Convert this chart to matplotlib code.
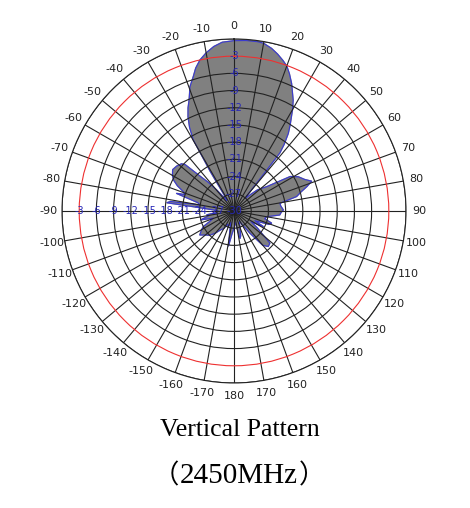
import numpy as np
import matplotlib
matplotlib.use("Agg")
import matplotlib.pyplot as plt

# measured pattern (deg, dB), 0 = up, clockwise positive
angles_deg = [
    -180, -175, -171, -168, -165, -160, -155, -150, -145, -140, -135, -130,
    -125, -120, -117, -113, -109, -105, -101, -98, -95, -90, -87, -84.5,
    -83, -81.5, -80, -77, -74.5, -73, -71.5, -69, -66, -63, -60, -56, -52,
    -48, -46.5, -44.5, -42, -39.5, -37, -34, -32, -31, -29.8, -28, -26,
    -24, -22, -19.5, -17, -15, -12.7, -10, -7, -4, 0, 4, 8, 10, 13, 15.5,
    18, 20, 22, 24.3, 26, 28.1, 30, 33, 35, 37, 38.3, 38.8, 40, 42, 45,
    48, 53.4, 58.5, 62, 66, 69, 71.5, 74, 77, 80.5, 84, 88.8, 92, 95,
    99.9, 104, 108, 111, 115, 118, 122, 126, 131.9, 136, 140, 144.3, 148,
    152, 157, 162, 165, 167.6, 170, 174, 178,
]
gain_db = [
    -27.0, -26.0, -23.8, -26.5, -28.0, -27.0, -27.5, -26.5, -26.0, -25.0,
    -24.0, -23.5, -22.7, -23.5, -24.0, -25.5, -26.2, -24.0, -25.5, -25.2,
    -27.0, -27.3, -26.4, -24.0, -18.2, -18.8, -24.0, -23.5, -21.5, -19.5,
    -21.0, -20.5, -19.2, -18.2, -17.6, -17.1, -17.3, -17.7, -18.3, -21.3,
    -23.3, -25.3, -27.0, -27.8, -27.7, -22.0, -15.7, -13.5, -11.7, -10.3,
    -9.1, -7.0, -5.6, -4.2, -3.0, -2.0, -1.1, -0.5, -0.3, -0.2, -0.2, -0.3,
    -0.9, -1.6, -2.4, -3.1, -4.2, -5.6, -6.8, -8.1, -9.6, -12.0, -13.5,
    -15.5, -17.1, -22.0, -26.5, -27.0, -26.0, -24.5, -22.9, -18.5, -17.3,
    -16.5, -15.5, -16.6, -17.8, -18.8, -21.9, -21.8, -21.4, -21.8, -22.0,
    -24.2, -24.5, -23.1, -23.5, -26.0, -24.2, -26.5, -25.0, -21.6, -21.4,
    -22.2, -25.2, -27.0, -28.0, -27.5, -26.5, -25.5, -25.1, -27.0, -28.0,
    -27.5,
]

rings_db = [-30, -27, -24, -21, -18, -15, -12, -9, -6, -3, 0]
ring_labels = ["-30", "-27", "-24", "-21", "-18", "-15", "-12", "-9", "-6", "-3"]
angle_ticks = list(range(0, 360, 10))
angle_labels = [str(a if a <= 180 else a - 360) for a in angle_ticks]
floor_db = -30

theta = np.deg2rad(np.array(angles_deg + [angles_deg[0]]))
r = np.clip(np.array(gain_db + [gain_db[0]]) - floor_db, 0, None)

fig = plt.figure(figsize=(4.70, 5.08), dpi=100)
ax = fig.add_axes([0.1319, 0.2461, 0.732, 0.6772], projection="polar")
ax.set_theta_zero_location("N")
ax.set_theta_direction(-1)
ax.set_ylim(0, -floor_db)

ax.fill(theta, r, color="#808080", zorder=1)
ax.plot(theta, r, color="#3a3ad0", lw=0.8, zorder=1.5)

ax.set_axisbelow(False)
ax.set_thetagrids(angle_ticks, angle_labels, fontsize=8, color="#222222")
ax.tick_params(axis="x", pad=-1)
rvals = [d - floor_db for d in rings_db[1:]]
ax.set_rgrids(rvals, labels=[""] * len(rvals))
ax.xaxis.grid(True, color="#222222", lw=0.8)
ax.yaxis.grid(True, color="#222222", lw=0.8)
for gl, d in zip(ax.yaxis.get_gridlines(), rings_db[1:]):
    if d == -3:
        gl.set_color("#ee3030")
ax.spines["polar"].set_color("#222222")
ax.spines["polar"].set_linewidth(0.8)

# blue level labels along the 0 and -90 spokes
for lab, d in zip(ring_labels, rings_db):
    rr = d - floor_db
    ax.text(np.deg2rad(-90), rr, lab, color="#2828b8", fontsize=7,
            ha="center", va="center", zorder=5)
    if d != -30:
        ax.text(0, rr, lab, color="#2828b8", fontsize=7,
                ha="center", va="center", zorder=5)

serif = "Liberation Serif"
cjk = "Noto Sans CJK SC"
fig.text(240 / 470, 1 - 430 / 508, "Vertical Pattern", family=serif,
         fontsize=18.5, ha="center", va="center")
y2 = 1 - 476 / 508
fig.text(239 / 470, y2, "2450MHz", family=serif, fontsize=21,
         ha="center", va="center")
fig.text(179 / 470, y2, "（", family=cjk, fontsize=19, ha="right", va="center")
fig.text(299 / 470, y2, "）", family=cjk, fontsize=19, ha="left", va="center")

fig.savefig("out.png", dpi=100)
